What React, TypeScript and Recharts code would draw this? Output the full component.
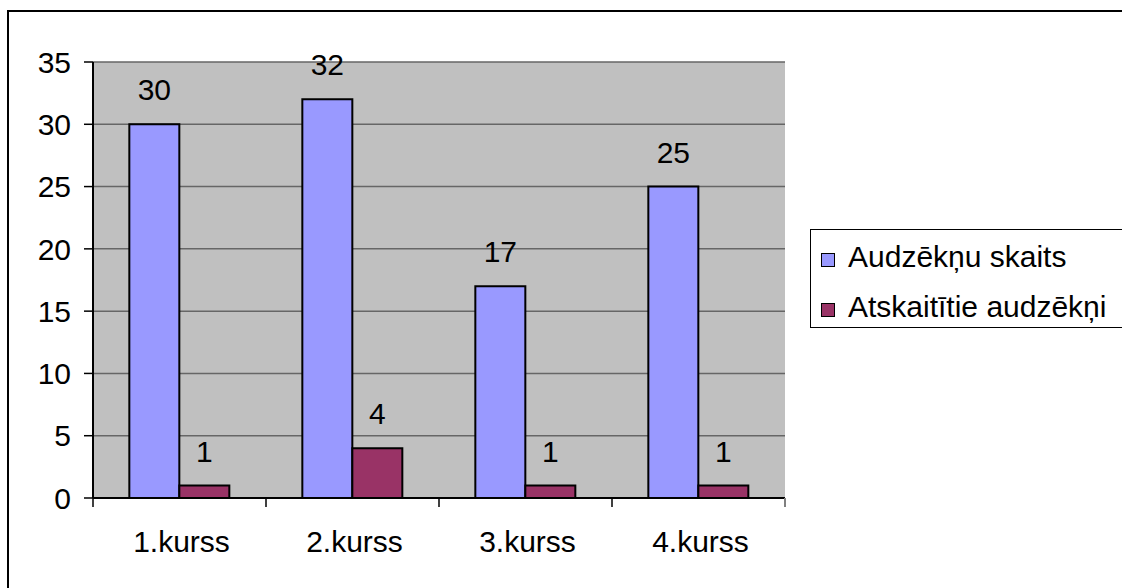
import React from 'react';
import { BarChart, Bar, XAxis, YAxis, CartesianGrid, Legend, LabelList } from 'recharts';

const categories = ['1.kurss', '2.kurss', '3.kurss', '4.kurss'];
const studentCount = [30, 32, 17, 25];
const expelledCount = [1, 4, 1, 1];
const yTicks = [0, 5, 10, 15, 20, 25, 30, 35];
const seriesNames = ['Audzēkņu skaits', 'Atskaitītie audzēkņi'];
const seriesColors = ['#9999FF', '#993366'];

const data = categories.map((c, i) => ({ name: c, a: studentCount[i], b: expelledCount[i] }));

const FONT = '"Liberation Sans", Arial, sans-serif';
const FS = 30;
const W = 1122;
const H = 588;
const PLOT_LEFT = 93;
const PLOT_RIGHT = 785;
const PLOT_TOP = 62;
const PLOT_BOTTOM = 498;
const BAND = (PLOT_RIGHT - PLOT_LEFT) / categories.length;

const XTick = (props: any) => {
  const { x, y, payload, index } = props;
  const half = BAND / 2;
  return (
    <g>
      <line x1={x - half} y1={y} x2={x - half} y2={y + 9} stroke="#000" strokeWidth={1.5} />
      {index === categories.length - 1 && (
        <line x1={x + half} y1={y} x2={x + half} y2={y + 9} stroke="#808080" strokeWidth={2} />
      )}
      <text x={x + 2} y={y + 54} textAnchor="middle" fontFamily={FONT} fontSize={FS} fill="#000">
        {payload.value}
      </text>
    </g>
  );
};

const renderLegend = () => (
  <div
    style={{
      border: '1px solid #000',
      width: 330,
      height: 99,
      boxSizing: 'border-box',
      background: '#fff',
      fontFamily: FONT,
      fontSize: FS,
      color: '#000',
      paddingTop: 7,
    }}
  >
    {seriesNames.map((n, i) => (
      <div key={n} style={{ display: 'flex', alignItems: 'center', height: 40, marginBottom: i === 0 ? 10 : 0 }}>
        <div
          style={{
            width: 12,
            height: 12,
            background: seriesColors[i],
            border: '1px solid #000',
            marginLeft: 10,
            marginRight: 13,
            marginTop: 6,
          }}
        />
        <span style={{ whiteSpace: 'nowrap' }}>{n}</span>
      </div>
    ))}
  </div>
);

export default function App() {
  return (
    <div style={{ position: 'fixed', left: 0, top: 0, width: W, height: H, background: '#fff', overflow: 'hidden' }}>
      <div
        style={{
          position: 'absolute',
          left: 7,
          top: 10,
          width: W,
          height: H,
          borderLeft: '2px solid #000',
          borderTop: '2px solid #000',
        }}
      />
      <div style={{ position: 'absolute', left: 0, top: 0 }}>
        <BarChart
          width={W}
          height={H}
          data={data}
          margin={{ top: PLOT_TOP, right: W - PLOT_RIGHT, left: 0, bottom: 0 }}
          barCategoryGap="21%"
          barGap={0}
        >
          <CartesianGrid vertical={false} fill="#C0C0C0" stroke="#666" strokeWidth={1.5} fillOpacity={1} />
          <XAxis
            dataKey="name"
            height={H - PLOT_BOTTOM}
            axisLine={{ stroke: '#000', strokeWidth: 2 }}
            tickLine={false}
            tickSize={0}
            tickMargin={0}
            tick={<XTick />}
            interval={0}
          />
          <XAxis
            xAxisId="top"
            dataKey="name"
            orientation="top"
            height={0}
            tick={false}
            tickLine={false}
            axisLine={{ stroke: '#808080', strokeWidth: 2.5 }}
          />
          <YAxis
            width={PLOT_LEFT}
            domain={[0, 35]}
            ticks={yTicks}
            interval={0}
            axisLine={{ stroke: '#000', strokeWidth: 2 }}
            tickLine={{ stroke: '#000', strokeWidth: 1.5 }}
            tickSize={9}
            tickMargin={13}
            tick={{ fontFamily: FONT, fontSize: FS, fill: '#000' }}
          />
          <YAxis
            yAxisId="right"
            orientation="right"
            width={0}
            domain={[0, 35]}
            tick={false}
            tickLine={false}
            axisLine={{ stroke: '#808080', strokeWidth: 2.5 }}
          />
          <Legend
            layout="horizontal"
            align="center"
            verticalAlign="middle"
            content={renderLegend}
            wrapperStyle={{ position: 'absolute', left: 810, top: 229, width: 330, height: 99 }}
          />
          <Bar dataKey="a" name={seriesNames[0]} fill={seriesColors[0]} stroke="#000" strokeWidth={2} isAnimationActive={false}>
            <LabelList dataKey="a" position="top" offset={24} fontFamily={FONT} fontSize={FS} fill="#000" />
          </Bar>
          <Bar dataKey="b" name={seriesNames[1]} fill={seriesColors[1]} stroke="#000" strokeWidth={2} isAnimationActive={false}>
            <LabelList dataKey="b" position="top" offset={24} fontFamily={FONT} fontSize={FS} fill="#000" />
          </Bar>
        </BarChart>
      </div>
    </div>
  );
}
